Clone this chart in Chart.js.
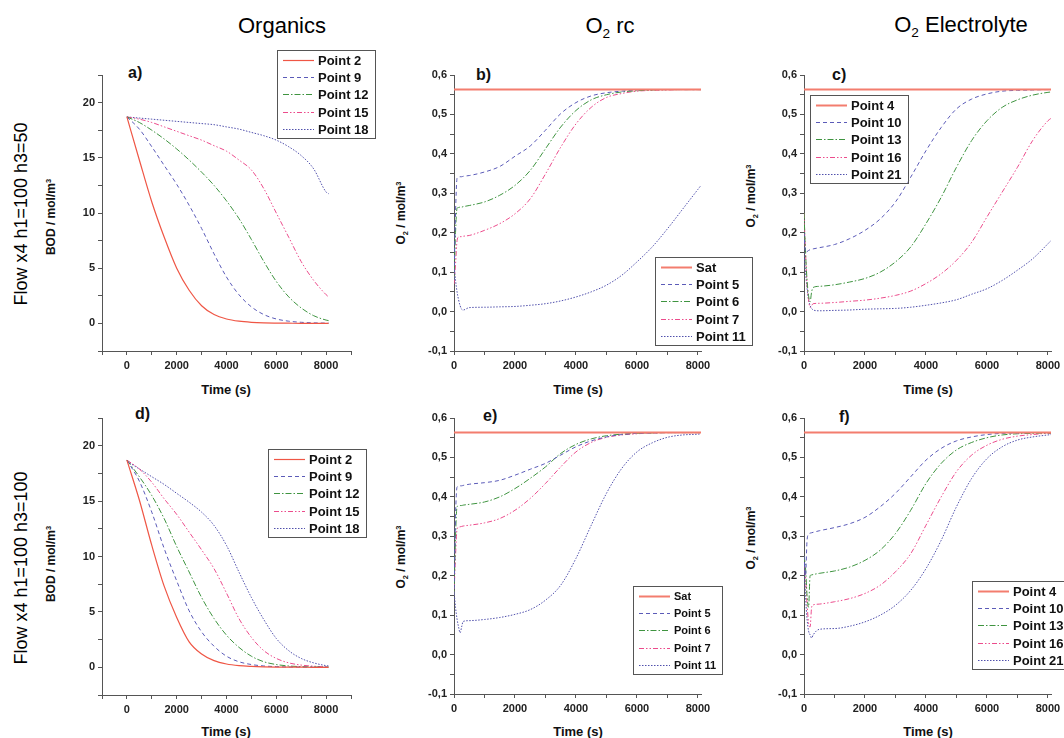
<!DOCTYPE html>
<html>
<head>
<meta charset="utf-8">
<script src="https://cdn.jsdelivr.net/npm/chart.js@4.4.1/dist/chart.umd.min.js"></script>
<style>
    html, body { margin: 0; padding: 0; background: #fff; }
    #page { position: relative; width: 1064px; height: 738px; overflow: hidden; font-family: "Liberation Sans", Arial, sans-serif; color: #111; }
    canvas { position: absolute; }
    .txt { position: absolute; white-space: nowrap; line-height: 1; transform: translate(-50%, -50%); }
    .rot { transform: translate(-50%, -50%) rotate(-90deg); }
    .colTitle { font-size: 22px; color: #000; }
    .rowTitle { font-size: 18px; color: #000; }
    .axTitle { font-size: 12px; font-weight: bold; }
    .xTitle { font-size: 13px; font-weight: bold; }
    .tag { position: absolute; font-size: 16px; font-weight: bold; line-height: 1; transform: translateY(-50%); }
    sub { font-size: 0.62em; vertical-align: -0.35em; }
    sup { font-size: 0.62em; vertical-align: 0.55em; }
</style>
</head>
<body>
<div id="page">
    <div class="txt colTitle" style="left:282px; top:26px">Organics</div>
    <div class="txt colTitle" style="left:610px; top:28px">O<sub>2</sub> rc</div>
    <div class="txt colTitle" style="left:961px; top:27px">O<sub>2</sub> Electrolyte</div>

    <div class="txt rot rowTitle" style="left:21px; top:214px">Flow x4 h1=100 h3=50</div>
    <div class="txt rot rowTitle" style="left:21px; top:568px">Flow x4 h1=100 h3=100</div>

    <div class="txt rot axTitle" style="left:51px; top:217px">BOD / mol/m<sup>3</sup></div>
    <div class="txt rot axTitle" style="left:51px; top:564px">BOD / mol/m<sup>3</sup></div>
    <div class="txt rot axTitle" style="left:402px; top:213px">O<sub>2</sub> / mol/m<sup>3</sup></div>
    <div class="txt rot axTitle" style="left:752px; top:196px">O<sub>2</sub> / mol/m<sup>3</sup></div>
    <div class="txt rot axTitle" style="left:402px; top:557px">O<sub>2</sub> / mol/m<sup>3</sup></div>
    <div class="txt rot axTitle" style="left:752px; top:538px">O<sub>2</sub> / mol/m<sup>3</sup></div>

    <div class="txt xTitle" style="left:226px; top:389px">Time (s)</div>
    <div class="txt xTitle" style="left:578px; top:389px">Time (s)</div>
    <div class="txt xTitle" style="left:928px; top:389px">Time (s)</div>
    <div class="txt xTitle" style="left:226px; top:731px">Time (s)</div>
    <div class="txt xTitle" style="left:578px; top:731px">Time (s)</div>
    <div class="txt xTitle" style="left:928px; top:731px">Time (s)</div>

    <div class="tag" style="left:128px; top:73px">a)</div>
    <div class="tag" style="left:476px; top:75px">b)</div>
    <div class="tag" style="left:832px; top:75px">c)</div>
    <div class="tag" style="left:135px; top:414px">d)</div>
    <div class="tag" style="left:483px; top:416px">e)</div>
    <div class="tag" style="left:839px; top:417px">f)</div>

    <canvas id="chartA"></canvas>
    <canvas id="chartB"></canvas>
    <canvas id="chartC"></canvas>
    <canvas id="chartD"></canvas>
    <canvas id="chartE"></canvas>
    <canvas id="chartF"></canvas>
</div>
<script>
// time grids (s)
const bodTime = [0, 500, 1000, 1500, 2000, 2500, 3000, 3500, 4000, 4500, 5000, 5500, 6000, 6500, 7000, 7500, 8000, 8100];
const o2Time = [0, 50, 100, 150, 200, 250, 300, 500, 1000, 1500, 2000, 2500, 3000, 3500, 4000, 4500, 5000, 5500, 6000, 6500, 7000, 7500, 8000, 8100];
const satTime = [0, 8100];

// axis tick positions (labels only on the major ones)
const bodXTicks = [-1000, 0, 1000, 2000, 3000, 4000, 5000, 6000, 7000, 8000, 9000];
const o2XTicks = [0, 1000, 2000, 3000, 4000, 5000, 6000, 7000, 8000];
const bodYTicks = [-2.5, 0, 2.5, 5, 7.5, 10, 12.5, 15, 17.5, 20, 22.5];
const o2YTicks = [-0.1, -0.05, 0, 0.05, 0.1, 0.15, 0.2, 0.25, 0.3, 0.35, 0.4, 0.45, 0.5, 0.55, 0.6];

const organicsLabels = ['Point 2', 'Point 9', 'Point 12', 'Point 15', 'Point 18'];
const rcLabels = ['Sat', 'Point 5', 'Point 6', 'Point 7', 'Point 11'];
const electrolyteLabels = ['Point 4', 'Point 10', 'Point 13', 'Point 16', 'Point 21'];

// a) BOD, h3=50
const aPoint2 = [18.7, 14.8, 11.0, 7.8, 5.0, 3.0, 1.6, 0.8, 0.4, 0.2, 0.1, 0.05, 0.03, 0.02, 0.01, 0.01, 0.01, 0.01];
const aPoint9 = [18.7, 17.6, 16.0, 14.3, 12.6, 10.7, 8.6, 6.3, 4.2, 2.6, 1.5, 0.8, 0.4, 0.2, 0.1, 0.05, 0.03, 0.03];
const aPoint12 = [18.7, 18.2, 17.5, 16.7, 15.8, 14.8, 13.7, 12.5, 11.1, 9.5, 7.6, 5.6, 3.8, 2.4, 1.4, 0.7, 0.3, 0.25];
const aPoint15 = [18.7, 18.5, 18.2, 17.8, 17.4, 17.0, 16.6, 16.1, 15.6, 14.8, 13.9, 12.2, 10.0, 7.8, 5.6, 3.9, 2.6, 2.4];
const aPoint18 = [18.7, 18.6, 18.5, 18.4, 18.3, 18.2, 18.1, 18.0, 17.8, 17.6, 17.3, 17.0, 16.6, 16.0, 15.2, 14.0, 11.9, 11.75];

// d) BOD, h3=100
const dPoint2 = [18.7, 15.1, 11.0, 7.3, 4.5, 2.3, 1.2, 0.6, 0.3, 0.15, 0.08, 0.04, 0.02, 0.01, 0.01, 0.0, 0.0, 0.0];
const dPoint9 = [18.7, 16.8, 14.0, 10.7, 7.8, 5.1, 3.2, 1.9, 1.0, 0.5, 0.25, 0.12, 0.06, 0.03, 0.02, 0.01, 0.01, 0.01];
const dPoint12 = [18.7, 17.2, 15.5, 13.4, 10.9, 8.6, 6.3, 4.4, 2.9, 1.8, 1.0, 0.5, 0.25, 0.12, 0.06, 0.03, 0.02, 0.02];
const dPoint15 = [18.7, 17.9, 16.7, 15.2, 13.8, 12.2, 10.6, 8.9, 6.7, 4.4, 2.7, 1.5, 0.8, 0.4, 0.2, 0.1, 0.05, 0.05];
const dPoint18 = [18.6, 17.9, 17.2, 16.5, 15.7, 14.9, 14.0, 12.8, 11.0, 8.6, 6.3, 4.3, 2.6, 1.5, 0.8, 0.4, 0.15, 0.12];

const satLevel = [0.563, 0.563];

// b) O2 rc, h3=50
const bPoint5 = [0.08, 0.25, 0.338, 0.341, 0.342, 0.342, 0.343, 0.345, 0.354, 0.368, 0.394, 0.42, 0.46, 0.502, 0.53, 0.547, 0.555, 0.559, 0.562, 0.563, 0.563, 0.563, 0.563, 0.563];
const bPoint6 = [0.08, 0.2, 0.262, 0.264, 0.265, 0.265, 0.266, 0.269, 0.278, 0.295, 0.32, 0.358, 0.413, 0.468, 0.51, 0.537, 0.55, 0.557, 0.56, 0.562, 0.563, 0.563, 0.563, 0.563];
const bPoint7 = [0.07, 0.12, 0.18, 0.189, 0.19, 0.19, 0.191, 0.193, 0.206, 0.223, 0.248, 0.286, 0.349, 0.417, 0.476, 0.518, 0.543, 0.553, 0.559, 0.561, 0.562, 0.563, 0.563, 0.563];
const bPoint11 = [0.12, 0.08, 0.05, 0.03, 0.015, 0.006, 0.004, 0.01, 0.011, 0.012, 0.013, 0.016, 0.02, 0.027, 0.037, 0.05, 0.067, 0.092, 0.126, 0.164, 0.21, 0.26, 0.31, 0.32];

// c) O2 electrolyte, h3=50
const cPoint10 = [0.2, 0.15, 0.152, 0.155, 0.157, 0.158, 0.159, 0.162, 0.17, 0.185, 0.206, 0.235, 0.278, 0.341, 0.408, 0.467, 0.514, 0.539, 0.552, 0.559, 0.561, 0.562, 0.563, 0.563];
const cPoint13 = [0.25, 0.15, 0.08, 0.04, 0.025, 0.05, 0.061, 0.064, 0.068, 0.075, 0.084, 0.1, 0.126, 0.164, 0.223, 0.29, 0.366, 0.434, 0.484, 0.518, 0.537, 0.549, 0.556, 0.557];
const cPoint16 = [0.25, 0.15, 0.07, 0.03, 0.01, 0.015, 0.02, 0.021, 0.023, 0.026, 0.029, 0.034, 0.041, 0.052, 0.071, 0.096, 0.13, 0.176, 0.24, 0.303, 0.366, 0.434, 0.484, 0.49];
const cPoint21 = [0.15, 0.1, 0.06, 0.03, 0.015, 0.008, 0.004, 0.002, 0.003, 0.004, 0.006, 0.007, 0.008, 0.011, 0.016, 0.022, 0.03, 0.044, 0.058, 0.079, 0.105, 0.134, 0.172, 0.18];

// e) O2 rc, h3=100
const ePoint5 = [0.15, 0.35, 0.425, 0.427, 0.428, 0.428, 0.429, 0.432, 0.436, 0.442, 0.455, 0.47, 0.485, 0.506, 0.527, 0.542, 0.552, 0.558, 0.561, 0.562, 0.563, 0.563, 0.563, 0.563];
const ePoint6 = [0.15, 0.3, 0.375, 0.377, 0.378, 0.378, 0.379, 0.381, 0.387, 0.4, 0.421, 0.447, 0.476, 0.51, 0.533, 0.547, 0.555, 0.559, 0.561, 0.562, 0.563, 0.563, 0.563, 0.563];
const ePoint7 = [0.15, 0.25, 0.318, 0.323, 0.324, 0.325, 0.326, 0.328, 0.334, 0.345, 0.366, 0.396, 0.434, 0.476, 0.514, 0.538, 0.551, 0.557, 0.56, 0.562, 0.563, 0.563, 0.563, 0.563];
const ePoint11 = [0.16, 0.12, 0.09, 0.07, 0.055, 0.07, 0.084, 0.086, 0.089, 0.094, 0.102, 0.114, 0.138, 0.176, 0.244, 0.328, 0.409, 0.472, 0.514, 0.537, 0.551, 0.557, 0.559, 0.56];

// f) O2 electrolyte, h3=100
const fPoint10 = [0.25, 0.2, 0.29, 0.305, 0.308, 0.309, 0.31, 0.314, 0.322, 0.332, 0.348, 0.375, 0.409, 0.451, 0.493, 0.523, 0.542, 0.552, 0.558, 0.561, 0.562, 0.563, 0.563, 0.563];
const fPoint13 = [0.25, 0.22, 0.15, 0.12, 0.2, 0.202, 0.203, 0.206, 0.212, 0.222, 0.239, 0.265, 0.307, 0.366, 0.434, 0.485, 0.519, 0.538, 0.55, 0.557, 0.56, 0.561, 0.562, 0.562];
const fPoint16 = [0.25, 0.2, 0.13, 0.08, 0.07, 0.12, 0.126, 0.128, 0.134, 0.142, 0.155, 0.176, 0.21, 0.256, 0.328, 0.4, 0.464, 0.506, 0.531, 0.546, 0.554, 0.558, 0.561, 0.561];
const fPoint21 = [0.25, 0.15, 0.09, 0.06, 0.05, 0.042, 0.05, 0.064, 0.066, 0.072, 0.083, 0.1, 0.125, 0.163, 0.218, 0.29, 0.375, 0.447, 0.497, 0.527, 0.544, 0.552, 0.557, 0.558];

const FONT = '"Liberation Sans", Arial, sans-serif';

// line styles by series position
const seriesStyle = [
    { color: '#ef5645', dash: [], width: 1.2 },
    { color: '#5b5bb8', dash: [4, 3], width: 1 },
    { color: '#3f9440', dash: [6, 2, 1.5, 2], width: 1 },
    { color: '#ec4c8c', dash: [5, 2, 1.5, 2, 1.5, 2], width: 1 },
    { color: '#5050ac', dash: [1.5, 1.5], width: 1 }
];
const satStyle = { color: '#f37d6e', dash: [], width: 2 };

// legend box drawn inside the plot
const boxLegend = {
    id: 'boxLegend',
    afterDraw(chart, args, opts) {
        const ctx = chart.ctx;
        const sets = chart.data.datasets;
        const x0 = chart.chartArea.left + opts.dx;
        const y0 = chart.chartArea.top + opts.dy;
        const row = 17.2;
        ctx.save();
        ctx.font = `bold ${opts.size}px ${FONT}`;
        const textW = Math.max(...sets.map(d => ctx.measureText(d.label).width));
        const w = 6 + 31 + 4 + textW + 6;
        const h = 10 + (sets.length - 1) * row + 9;
        ctx.fillStyle = '#fff';
        ctx.fillRect(x0, y0, w, h);
        ctx.strokeStyle = '#555';
        ctx.lineWidth = 1;
        ctx.setLineDash([]);
        ctx.strokeRect(Math.round(x0) + 0.5, Math.round(y0) + 0.5, Math.round(w), Math.round(h));
        ctx.textBaseline = 'middle';
        ctx.fillStyle = '#111';
        sets.forEach((d, i) => {
            const y = Math.round(y0 + 10 + i * row) + 0.5;
            ctx.beginPath();
            ctx.strokeStyle = d.borderColor;
            ctx.lineWidth = d.borderWidth;
            ctx.setLineDash(d.borderDash || []);
            ctx.moveTo(x0 + 6, y);
            ctx.lineTo(x0 + 37, y);
            ctx.stroke();
            ctx.fillText(d.label, x0 + 41, y + 0.5);
        });
        ctx.restore();
    }
};

function pts(xs, ys) {
    return xs.map((x, i) => ({ x: x, y: ys[i] }));
}

function makeSet(label, xs, ys, style) {
    return {
        label: label,
        data: pts(xs, ys),
        borderColor: style.color,
        borderDash: style.dash,
        borderWidth: style.width,
        pointRadius: 0,
        cubicInterpolationMode: 'monotone',
        fill: false
    };
}

const isMult = (v, step) => Math.abs(v / step - Math.round(v / step)) < 1e-6;

function makePanel(id, box, kind, datasets, legend) {
    const canvas = document.getElementById(id);
    const w = (box.r - box.l) + 60 + 70;
    const h = (box.b - box.t) + 30 + 26;
    canvas.width = w;
    canvas.height = h;
    canvas.style.left = (box.l - 60) + 'px';
    canvas.style.top = (box.t - 30) + 'px';

    const bod = kind === 'bod';
    const xTicks = bod ? bodXTicks : o2XTicks;
    const yTicks = bod ? bodYTicks : o2YTicks;
    const tickFont = { family: FONT, size: 11, weight: 'bold' };
    const axisGrid = { drawOnChartArea: false, drawTicks: true, tickLength: 4, color: '#555', lineWidth: 1 };

    return new Chart(canvas, {
        type: 'line',
        data: { datasets: datasets },
        options: {
            responsive: false,
            animation: false,
            events: [],
            layout: { padding: { left: 20, top: 30, right: 70, bottom: 0 } },
            plugins: {
                legend: { display: false },
                tooltip: { enabled: false },
                boxLegend: legend
            },
            scales: {
                x: {
                    type: 'linear',
                    bounds: 'data',
                    min: bod ? -1000 : 0,
                    max: bod ? 9000 : 8100,
                    grid: axisGrid,
                    border: { display: true, color: '#555', width: 1 },
                    afterFit: (s) => { s.height = 26; },
                    afterBuildTicks: (s) => { s.ticks = xTicks.map(v => ({ value: v })); },
                    ticks: {
                        autoSkip: false,
                        maxRotation: 0,
                        minRotation: 0,
                        padding: 4,
                        color: '#222',
                        font: tickFont,
                        callback: (v) => (v >= 0 && isMult(v, 2000)) ? String(v) : ''
                    }
                },
                y: {
                    type: 'linear',
                    bounds: 'data',
                    min: bod ? -2.5 : -0.1,
                    max: bod ? 22.5 : 0.6,
                    grid: axisGrid,
                    border: { display: true, color: '#555', width: 1 },
                    afterFit: (s) => { s.width = 40; },
                    afterBuildTicks: (s) => { s.ticks = yTicks.map(v => ({ value: v })); },
                    ticks: {
                        autoSkip: false,
                        padding: 3,
                        color: '#222',
                        font: tickFont,
                        callback: (v) => {
                            if (bod) return (v >= 0 && v <= 20 && isMult(v, 5)) ? String(Math.round(v)) : '';
                            if (!isMult(v, 0.1)) return '';
                            if (Math.abs(v) < 1e-9) return '0,0';
                            return v.toFixed(1).replace('.', ',');
                        }
                    }
                }
            }
        },
        plugins: [boxLegend]
    });
}

function bodSets(series) {
    return series.map((ys, i) => makeSet(organicsLabels[i], bodTime, ys, seriesStyle[i]));
}

function o2Sets(labels, series) {
    const sets = [makeSet(labels[0], satTime, satLevel, satStyle)];
    series.forEach((ys, i) => sets.push(makeSet(labels[i + 1], o2Time, ys, seriesStyle[i + 1])));
    return sets;
}

makePanel('chartA', { l: 102, r: 351, t: 75, b: 351 }, 'bod',
    bodSets([aPoint2, aPoint9, aPoint12, aPoint15, aPoint18]),
    { dx: 175, dy: -25, size: 13 });

makePanel('chartB', { l: 454, r: 701, t: 75, b: 351 }, 'o2',
    o2Sets(rcLabels, [bPoint5, bPoint6, bPoint7, bPoint11]),
    { dx: 201, dy: 182, size: 13 });

makePanel('chartC', { l: 804, r: 1051, t: 75, b: 351 }, 'o2',
    o2Sets(electrolyteLabels, [cPoint10, cPoint13, cPoint16, cPoint21]),
    { dx: 6, dy: 20, size: 13 });

makePanel('chartD', { l: 102, r: 351, t: 418, b: 695 }, 'bod',
    bodSets([dPoint2, dPoint9, dPoint12, dPoint15, dPoint18]),
    { dx: 166, dy: 31, size: 13 });

makePanel('chartE', { l: 454, r: 701, t: 418, b: 694 }, 'o2',
    o2Sets(rcLabels, [ePoint5, ePoint6, ePoint7, ePoint11]),
    { dx: 179, dy: 168, size: 11 });

makePanel('chartF', { l: 804, r: 1051, t: 418, b: 694 }, 'o2',
    o2Sets(electrolyteLabels, [fPoint10, fPoint13, fPoint16, fPoint21]),
    { dx: 168, dy: 163, size: 13 });
</script>
</body>
</html>
